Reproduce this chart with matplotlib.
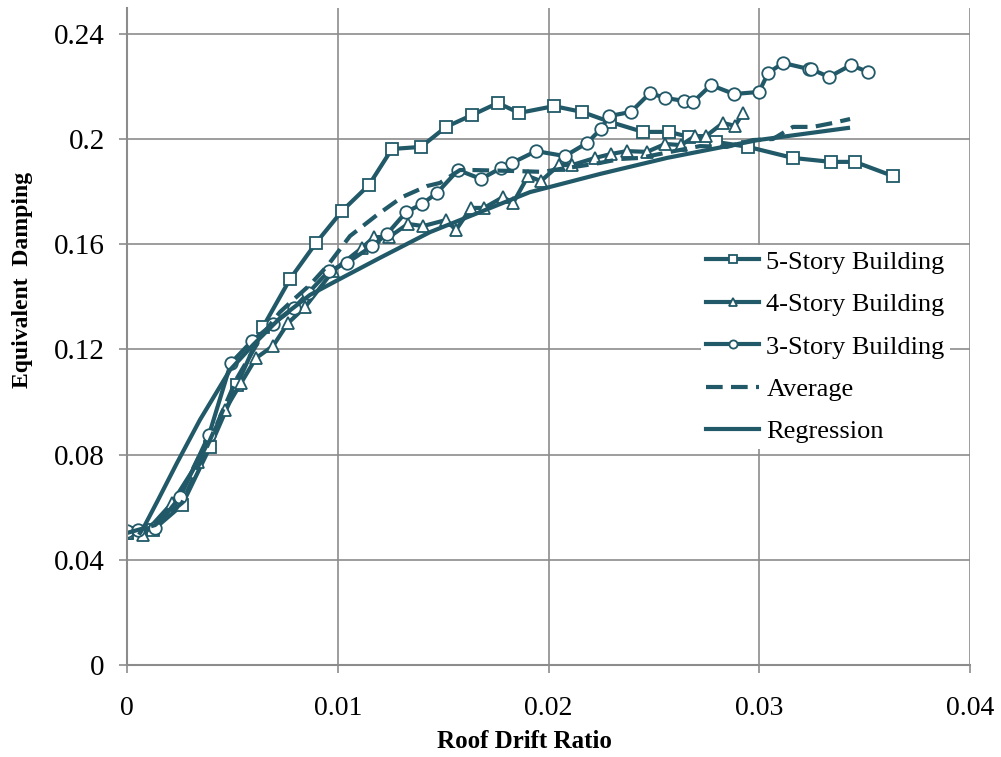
import numpy as np
import matplotlib
matplotlib.use("Agg")
import matplotlib.pyplot as plt

# ================= DATA =================
x5 = [0, 0.00123, 0.00261, 0.00394, 0.00522, 0.00645, 0.00774, 0.00897, 0.01020, 0.01148,
      0.01257, 0.01395, 0.01514, 0.01637, 0.01760, 0.01860, 0.02026, 0.02159, 0.02292, 0.02448,
      0.02572, 0.02667, 0.02795, 0.02947, 0.03160, 0.03340, 0.03454, 0.03635]
y5 = [0.0502, 0.0513, 0.0608, 0.0829, 0.1065, 0.1285, 0.1468, 0.1605, 0.1726, 0.1825,
      0.1962, 0.1970, 0.2046, 0.2091, 0.2137, 0.2099, 0.2125, 0.2103, 0.2065, 0.2027,
      0.2027, 0.2008, 0.1989, 0.1970, 0.1928, 0.1913, 0.1913, 0.1859]

x4 = [0, 0.00076, 0.00214, 0.00337, 0.00465, 0.00541, 0.00612, 0.00693, 0.00764, 0.00845,
      0.00977, 0.01115, 0.01172, 0.01243, 0.01333, 0.01405, 0.01514, 0.01561, 0.01632, 0.01694,
      0.01784, 0.01832, 0.01903, 0.01964, 0.02050, 0.02112, 0.02221, 0.02297, 0.02372, 0.02467,
      0.02553, 0.02629, 0.02695, 0.02747, 0.02828, 0.02885, 0.02923]
y4 = [0.0502, 0.0494, 0.0616, 0.0772, 0.0970, 0.1072, 0.1167, 0.1213, 0.1300, 0.1361,
      0.1498, 0.1586, 0.1627, 0.1627, 0.1677, 0.1669, 0.1692, 0.1654, 0.1738, 0.1738,
      0.1779, 0.1757, 0.1859, 0.1840, 0.1901, 0.1901, 0.1928, 0.1943, 0.1954, 0.1951,
      0.1981, 0.1977, 0.2011, 0.2011, 0.2061, 0.2050, 0.2099]

x3 = [0, 0.00052, 0.00133, 0.00252, 0.00389, 0.00493, 0.00593, 0.00693, 0.00792, 0.00859,
      0.00958, 0.01044, 0.01163, 0.01234, 0.01324, 0.01400, 0.01471, 0.01571, 0.01680, 0.01775,
      0.01827, 0.01941, 0.02078, 0.02183, 0.02249, 0.02287, 0.02391, 0.02482, 0.02553, 0.02643,
      0.02686, 0.02771, 0.02880, 0.02999, 0.03042, 0.03113, 0.03236, 0.03246, 0.03331, 0.03435,
      0.03516]
y3 = [0.0510, 0.0513, 0.0521, 0.0639, 0.0875, 0.1148, 0.1232, 0.1297, 0.1357, 0.1414,
      0.1498, 0.1529, 0.1593, 0.1639, 0.1722, 0.1753, 0.1795, 0.1882, 0.1848, 0.1890,
      0.1909, 0.1954, 0.1935, 0.1985, 0.2038, 0.2087, 0.2103, 0.2175, 0.2156, 0.2145,
      0.2141, 0.2205, 0.2171, 0.2179, 0.2251, 0.2289, 0.2266, 0.2266, 0.2236, 0.2281,
      0.2255]

x_avg = [0, 0.00133, 0.00261, 0.00394, 0.00522, 0.00645, 0.00726, 0.00788, 0.00868, 0.00954,
         0.01058, 0.01186, 0.01305, 0.01423, 0.01485, 0.01580, 0.01642, 0.01851, 0.01974, 0.02055,
         0.02149, 0.02244, 0.02339, 0.02434, 0.02577, 0.02719, 0.02847, 0.02970, 0.03065, 0.03160,
         0.03255, 0.03350, 0.03431]
y_avg = [0.0502, 0.0532, 0.0616, 0.0856, 0.1091, 0.1259, 0.1342, 0.1388, 0.1445, 0.1521,
         0.1631, 0.1711, 0.1779, 0.1821, 0.1833, 0.1882, 0.1882, 0.1878, 0.1875, 0.1886,
         0.1897, 0.1909, 0.1924, 0.1928, 0.1951, 0.1973, 0.1970, 0.1996, 0.2000, 0.2046,
         0.2046, 0.2061, 0.2076]

x_reg = [0.00062, 0.00085, 0.00147, 0.00237, 0.00346, 0.00489, 0.00598, 0.00726, 0.00868, 0.01001,
         0.01200, 0.01438, 0.01675, 0.01912, 0.02244, 0.02562, 0.02994, 0.03421]
y_reg = [0.0502, 0.0532, 0.0627, 0.0768, 0.0932, 0.1122, 0.1217, 0.1319, 0.1407, 0.1464,
         0.1548, 0.1646, 0.1722, 0.1798, 0.1867, 0.1928, 0.1996, 0.2042]

x_ticks = [0, 0.01, 0.02, 0.03, 0.04]
x_ticklabels = ["0", "0.01", "0.02", "0.03", "0.04"]
y_ticks = [0, 0.04, 0.08, 0.12, 0.16, 0.2, 0.24]
y_ticklabels = ["0", "0.04", "0.08", "0.12", "0.16", "0.2", "0.24"]

# ================= STYLE =================
color = "#215968"
grid_color = "#8c8c8c"
plt.rcParams.update({"font.family": ["Liberation Serif", "DejaVu Serif"]})

fig = plt.figure(figsize=(10.01, 7.57), dpi=100)
ax = fig.add_axes([127 / 1001, 1 - 665 / 757, 843 / 1001, 657.5 / 757])

mk = dict(markersize=9, markerfacecolor="white", markeredgecolor=color, markeredgewidth=1.3)
ax.plot(x5, y5, color=color, lw=3, marker="s", label="5-Story Building", **mk)
ax.plot(x4, y4, color=color, lw=3, marker="^", label="4-Story Building", **mk)
ax.plot(x3, y3, color=color, lw=3, marker="o", label="3-Story Building", **mk)
ax.plot(x_avg, y_avg, color=color, lw=3, linestyle=(0, (4, 2)), label="Average")
ax.plot(x_reg, y_reg, color=color, lw=3, label="Regression")

ax.set_xlim(0, 0.04)
ax.set_ylim(0, 0.25)
ax.set_xticks(x_ticks)
ax.set_xticklabels(x_ticklabels, fontsize=20)
ax.set_yticks(y_ticks)
ax.set_yticklabels(y_ticklabels, fontsize=21)
ax.tick_params(axis="x", length=6, width=1.2, color=grid_color, pad=16)
ax.tick_params(axis="y", length=6, width=1.2, color=grid_color, pad=10)

ax.grid(True, color=grid_color, lw=1.2)
ax.set_axisbelow(True)
for s in ["top", "right"]:
    ax.spines[s].set_visible(False)
for s in ["left", "bottom"]:
    ax.spines[s].set_color(grid_color)
    ax.spines[s].set_linewidth(1.5)

ax.set_xlabel("Roof Drift Ratio", fontsize=18, fontweight="bold", va="center")
ax.xaxis.set_label_coords(0.471, -0.117)
ax.set_ylabel("Equivalent  Damping", fontsize=17, fontweight="bold", va="center")
ax.yaxis.set_label_coords(-0.1234, 0.586)

leg = ax.legend(loc="upper left", bbox_to_anchor=(0.681, 0.639), fontsize=19,
                frameon=True, facecolor="white", edgecolor="none", framealpha=1,
                fancybox=False, markerscale=0.65, handlelength=2.0, handletextpad=0.27,
                labelspacing=0.72, borderpad=0.2, borderaxespad=0)

fig.savefig("out.png", dpi=100)
